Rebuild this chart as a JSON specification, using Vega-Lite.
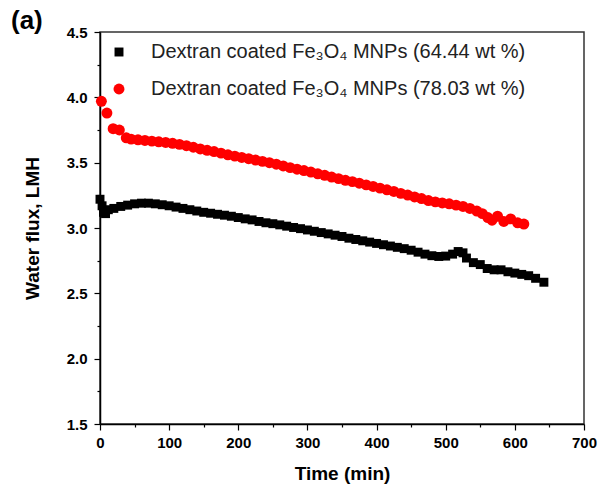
{
  "$schema": "https://vega.github.io/schema/vega-lite/v6.json",
  "autosize": "none",
  "width": 484,
  "height": 392,
  "padding": {"left": 100, "top": 32, "right": 19, "bottom": 73},
  "background": "white",
  "title": {"text": "(a)", "anchor": "start", "frame": "group", "dx": -89, "offset": 0, "dy": 30, "fontSize": 26, "fontWeight": "bold", "font": "Liberation Sans", "color": "black", "baseline": "alphabetic"},
  "config": {
    "view": {"stroke": "#333333", "strokeWidth": 1.5},
    "font": "Liberation Sans"
  },
  "data": {"values": [
    {"series": "64.44", "time": 0, "flux": 3.22}, {"series": "64.44", "time": 3, "flux": 3.17}, {"series": "64.44", "time": 5, "flux": 3.12}, {"series": "64.44", "time": 8, "flux": 3.11}, {"series": "64.44", "time": 12, "flux": 3.14}, {"series": "64.44", "time": 20, "flux": 3.15}, {"series": "64.44", "time": 30, "flux": 3.165}, {"series": "64.44", "time": 40, "flux": 3.175}, {"series": "64.44", "time": 50, "flux": 3.185}, {"series": "64.44", "time": 60, "flux": 3.19}, {"series": "64.44", "time": 70, "flux": 3.19}, {"series": "64.44", "time": 80, "flux": 3.185}, {"series": "64.44", "time": 90, "flux": 3.178}, {"series": "64.44", "time": 100, "flux": 3.17}, {"series": "64.44", "time": 110, "flux": 3.16}, {"series": "64.44", "time": 120, "flux": 3.15}, {"series": "64.44", "time": 130, "flux": 3.14}, {"series": "64.44", "time": 140, "flux": 3.13}, {"series": "64.44", "time": 150, "flux": 3.12}, {"series": "64.44", "time": 160, "flux": 3.113}, {"series": "64.44", "time": 170, "flux": 3.105}, {"series": "64.44", "time": 180, "flux": 3.098}, {"series": "64.44", "time": 190, "flux": 3.09}, {"series": "64.44", "time": 200, "flux": 3.08}, {"series": "64.44", "time": 210, "flux": 3.07}, {"series": "64.44", "time": 220, "flux": 3.062}, {"series": "64.44", "time": 230, "flux": 3.05}, {"series": "64.44", "time": 240, "flux": 3.04}, {"series": "64.44", "time": 250, "flux": 3.033}, {"series": "64.44", "time": 260, "flux": 3.024}, {"series": "64.44", "time": 270, "flux": 3.014}, {"series": "64.44", "time": 280, "flux": 3.004}, {"series": "64.44", "time": 290, "flux": 2.995}, {"series": "64.44", "time": 300, "flux": 2.985}, {"series": "64.44", "time": 310, "flux": 2.975}, {"series": "64.44", "time": 320, "flux": 2.965}, {"series": "64.44", "time": 330, "flux": 2.955}, {"series": "64.44", "time": 340, "flux": 2.945}, {"series": "64.44", "time": 350, "flux": 2.935}, {"series": "64.44", "time": 360, "flux": 2.922}, {"series": "64.44", "time": 370, "flux": 2.912}, {"series": "64.44", "time": 380, "flux": 2.902}, {"series": "64.44", "time": 390, "flux": 2.892}, {"series": "64.44", "time": 400, "flux": 2.882}, {"series": "64.44", "time": 410, "flux": 2.872}, {"series": "64.44", "time": 420, "flux": 2.862}, {"series": "64.44", "time": 430, "flux": 2.852}, {"series": "64.44", "time": 440, "flux": 2.842}, {"series": "64.44", "time": 450, "flux": 2.83}, {"series": "64.44", "time": 460, "flux": 2.815}, {"series": "64.44", "time": 470, "flux": 2.8}, {"series": "64.44", "time": 480, "flux": 2.788}, {"series": "64.44", "time": 490, "flux": 2.782}, {"series": "64.44", "time": 500, "flux": 2.785}, {"series": "64.44", "time": 510, "flux": 2.8}, {"series": "64.44", "time": 518, "flux": 2.82}, {"series": "64.44", "time": 525, "flux": 2.81}, {"series": "64.44", "time": 530, "flux": 2.77}, {"series": "64.44", "time": 540, "flux": 2.735}, {"series": "64.44", "time": 550, "flux": 2.72}, {"series": "64.44", "time": 560, "flux": 2.69}, {"series": "64.44", "time": 570, "flux": 2.68}, {"series": "64.44", "time": 580, "flux": 2.68}, {"series": "64.44", "time": 590, "flux": 2.665}, {"series": "64.44", "time": 600, "flux": 2.655}, {"series": "64.44", "time": 610, "flux": 2.645}, {"series": "64.44", "time": 620, "flux": 2.635}, {"series": "64.44", "time": 630, "flux": 2.615}, {"series": "64.44", "time": 642, "flux": 2.585},
    {"series": "78.03", "time": 2, "flux": 3.97}, {"series": "78.03", "time": 10, "flux": 3.88}, {"series": "78.03", "time": 19, "flux": 3.76}, {"series": "78.03", "time": 28, "flux": 3.75}, {"series": "78.03", "time": 38, "flux": 3.69}, {"series": "78.03", "time": 45, "flux": 3.68}, {"series": "78.03", "time": 55, "flux": 3.675}, {"series": "78.03", "time": 65, "flux": 3.67}, {"series": "78.03", "time": 75, "flux": 3.665}, {"series": "78.03", "time": 85, "flux": 3.66}, {"series": "78.03", "time": 95, "flux": 3.655}, {"series": "78.03", "time": 105, "flux": 3.648}, {"series": "78.03", "time": 115, "flux": 3.64}, {"series": "78.03", "time": 125, "flux": 3.63}, {"series": "78.03", "time": 135, "flux": 3.618}, {"series": "78.03", "time": 145, "flux": 3.605}, {"series": "78.03", "time": 155, "flux": 3.595}, {"series": "78.03", "time": 165, "flux": 3.585}, {"series": "78.03", "time": 175, "flux": 3.573}, {"series": "78.03", "time": 185, "flux": 3.56}, {"series": "78.03", "time": 195, "flux": 3.55}, {"series": "78.03", "time": 205, "flux": 3.54}, {"series": "78.03", "time": 215, "flux": 3.53}, {"series": "78.03", "time": 225, "flux": 3.52}, {"series": "78.03", "time": 235, "flux": 3.51}, {"series": "78.03", "time": 245, "flux": 3.5}, {"series": "78.03", "time": 255, "flux": 3.488}, {"series": "78.03", "time": 265, "flux": 3.475}, {"series": "78.03", "time": 275, "flux": 3.462}, {"series": "78.03", "time": 285, "flux": 3.45}, {"series": "78.03", "time": 295, "flux": 3.44}, {"series": "78.03", "time": 305, "flux": 3.428}, {"series": "78.03", "time": 315, "flux": 3.415}, {"series": "78.03", "time": 325, "flux": 3.403}, {"series": "78.03", "time": 335, "flux": 3.39}, {"series": "78.03", "time": 345, "flux": 3.378}, {"series": "78.03", "time": 355, "flux": 3.365}, {"series": "78.03", "time": 365, "flux": 3.355}, {"series": "78.03", "time": 375, "flux": 3.343}, {"series": "78.03", "time": 385, "flux": 3.33}, {"series": "78.03", "time": 395, "flux": 3.318}, {"series": "78.03", "time": 405, "flux": 3.305}, {"series": "78.03", "time": 415, "flux": 3.292}, {"series": "78.03", "time": 425, "flux": 3.28}, {"series": "78.03", "time": 435, "flux": 3.265}, {"series": "78.03", "time": 445, "flux": 3.252}, {"series": "78.03", "time": 455, "flux": 3.238}, {"series": "78.03", "time": 465, "flux": 3.225}, {"series": "78.03", "time": 475, "flux": 3.21}, {"series": "78.03", "time": 485, "flux": 3.2}, {"series": "78.03", "time": 495, "flux": 3.192}, {"series": "78.03", "time": 505, "flux": 3.185}, {"series": "78.03", "time": 515, "flux": 3.175}, {"series": "78.03", "time": 525, "flux": 3.165}, {"series": "78.03", "time": 535, "flux": 3.15}, {"series": "78.03", "time": 545, "flux": 3.13}, {"series": "78.03", "time": 553, "flux": 3.11}, {"series": "78.03", "time": 561, "flux": 3.08}, {"series": "78.03", "time": 567, "flux": 3.06}, {"series": "78.03", "time": 575, "flux": 3.09}, {"series": "78.03", "time": 584, "flux": 3.05}, {"series": "78.03", "time": 594, "flux": 3.07}, {"series": "78.03", "time": 604, "flux": 3.04}, {"series": "78.03", "time": 613, "flux": 3.03}
  ]},
  "mark": {"type": "point", "filled": true, "opacity": 1},
  "encoding": {
    "x": {
      "field": "time", "type": "quantitative",
      "scale": {"domain": [0, 700], "nice": false, "zero": false},
      "axis": {
        "title": "Time (min)", "titleFontSize": 19, "titleFontWeight": "bold", "titleColor": "black", "titlePadding": 14,
        "values": [0, 50, 100, 150, 200, 250, 300, 350, 400, 450, 500, 550, 600, 650, 700],
        "labelExpr": "datum.value % 100 === 0 ? datum.label : ''",
        "labelFontSize": 15, "labelFontWeight": "bold", "labelColor": "black", "labelPadding": 5,
        "tickSize": {"condition": {"test": "datum.value % 100 !== 0", "value": 3}, "value": 6},
        "tickColor": "black", "tickWidth": 1.2, "domainColor": "black", "domainWidth": 1.5,
        "grid": false, "labelFlush": false, "labelOverlap": false
      }
    },
    "y": {
      "field": "flux", "type": "quantitative",
      "scale": {"domain": [1.5, 4.5], "nice": false, "zero": false},
      "axis": {
        "title": "Water flux, LMH", "titleFontSize": 19, "titleFontWeight": "bold", "titleColor": "black", "titlePadding": 24,
        "values": [1.5, 1.75, 2, 2.25, 2.5, 2.75, 3, 3.25, 3.5, 3.75, 4, 4.25, 4.5],
        "labelExpr": "datum.value % 0.5 === 0 ? format(datum.value, '.1f') : ''",
        "labelFontSize": 15, "labelFontWeight": "bold", "labelColor": "black", "labelPadding": 7,
        "tickSize": {"condition": {"test": "datum.value % 0.5 !== 0", "value": 3}, "value": 6},
        "tickColor": "black", "tickWidth": 1.2, "domainColor": "black", "domainWidth": 1.5,
        "grid": false, "labelFlush": false, "labelOverlap": false
      }
    },
    "color": {
      "field": "series", "type": "nominal",
      "scale": {"domain": ["64.44", "78.03"], "range": ["#000000", "#ff0000"]},
      "legend": {
        "title": null, "orient": "none", "legendX": 9, "legendY": 10,
        "labelExpr": "'Dextran coated Fe₃O₄ MNPs (' + datum.label + ' wt %)'",
        "labelFontSize": 20, "labelColor": "#222222", "labelFont": "Liberation Sans", "labelOffset": 22, "labelLimit": 600,
        "rowPadding": 17, "symbolSize": 100, "symbolStrokeWidth": 0, "padding": 0
      }
    },
    "shape": {
      "field": "series", "type": "nominal",
      "scale": {"domain": ["64.44", "78.03"], "range": ["square", "circle"]}
    },
    "size": {
      "field": "series", "type": "nominal",
      "scale": {"domain": ["64.44", "78.03"], "range": [80, 120]}
    }
  }
}
